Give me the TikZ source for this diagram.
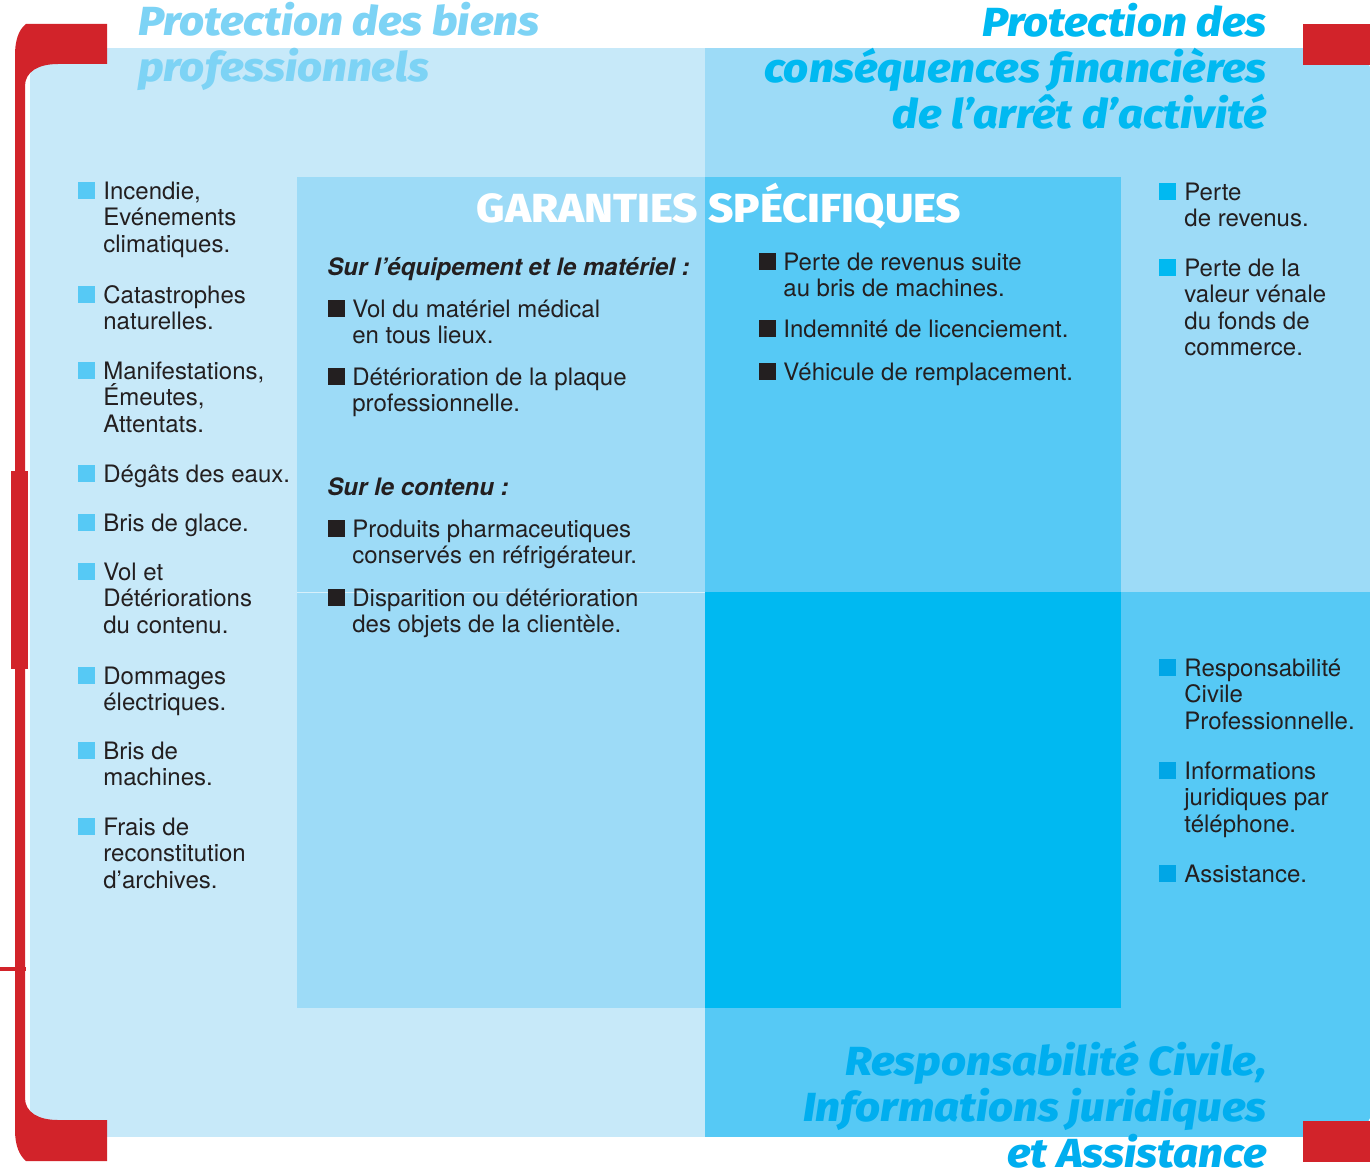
\documentclass[tikz,border=0pt]{standalone}
\usepackage{fontspec}
\setmainfont{TeX Gyre Heros}
\newfontfamily\titlefont{Fira Sans}[FakeStretch=1.08,BoldFont=* ExtraBold,BoldItalicFont=* ExtraBold Italic]
\newcommand{\firstline}{\rule{0pt}{11pt}}
\definecolor{pale}{HTML}{C7E9F9}
\definecolor{light}{HTML}{9DDBF7}
\definecolor{mid}{HTML}{56C9F5}
\definecolor{strong}{HTML}{00B9F1}
\definecolor{redc}{HTML}{D2232A}
\definecolor{titleL}{HTML}{7DD3F5}
\definecolor{titleR}{HTML}{00AEEF}
\definecolor{ink}{HTML}{231F20}
\definecolor{sqR}{HTML}{00A6E6}

\begin{document}
\begin{tikzpicture}[x=0.5pt,y=-0.5pt,
	body/.style={inner sep=0pt,align=left,anchor=north west,text=ink,font=\fontsize{12}{13.25}\selectfont},
	head/.style={body,anchor=base west,font=\fontsize{12}{13.25}\selectfont\bfseries\itshape},
	sqbox/.style={inner sep=0pt,minimum size=8.5pt,anchor=north east},
	title/.style={inner sep=0pt,font=\titlefont\fontsize{20.3}{23}\selectfont\bfseries\itshape}]
	\useasboundingbox (0,0) rectangle (1370,1172);
	\begin{scope}
	\clip[rounded corners=15pt] (30,48) rectangle (1372,1137);
	\fill[pale] (30,48) rectangle (705,1137);
	\fill[light] (705,48) rectangle (1372,592);
	\fill[mid] (705,592) rectangle (1372,1137);
	\end{scope}
	\fill[light] (297,177) rectangle (705,1008);
	\fill[mid] (705,177) rectangle (1121,592);
	\fill[strong] (705,592) rectangle (1121,1008);
	\draw[white,opacity=0.6,line width=0.5pt] (297,592) -- (705,592);
	\fill[redc] (107,24) -- (26,24) .. controls (18,30) and (15,42) .. (15,55) -- (15,1130)
		.. controls (15,1145) and (19,1155) .. (26,1161) -- (107,1161) -- (107,1120) -- (58,1120)
		.. controls (38,1120) and (25,1112) .. (25,1098) -- (25,86)
		.. controls (25,72) and (38,64) .. (58,64) -- (107,64) -- cycle;
	\fill[redc] (11,471) rectangle (28,669);
	\fill[redc] (0,967) rectangle (26,971);
	\fill[redc] (1303,24) rectangle (1370,65);
	\fill[redc] (1303,1121) rectangle (1370,1162);

	\node[title,text=titleL,anchor=base west,align=left] (tBiens) at (138,82) {Protection des biens\\professionnels};
	\node[title,text=strong,anchor=base east,align=right] (tPerte) at (1267,128) {Protection des\\conséquences financières\\de l’arrêt d’activité};
	\node[title,text=titleR,anchor=base east,align=right] (tRC) at (1267,1167) {Responsabilité Civile,\\Informations juridiques\\et Assistance};
	\node[title,text=white,anchor=base,font=\titlefont\fontsize{20.3}{23}\selectfont\bfseries] (tGar) at (719,222) {GARANTIES SPÉCIFIQUES};

	\node[body] (iFeu) at (103,177) {\firstline Incendie,\\Evénements\\climatiques.};
	\node[sqbox,fill=mid] (sFeu) at ([xshift=-4pt,yshift=-2.5pt]iFeu.north west) {};
	\node[body] (iCat) at (103,281) {\firstline Catastrophes\\naturelles.};
	\node[sqbox,fill=mid] (sCat) at ([xshift=-4pt,yshift=-2.5pt]iCat.north west) {};
	\node[body] (iEmeute) at (103,357) {\firstline Manifestations,\\Émeutes,\\Attentats.};
	\node[sqbox,fill=mid] (sEmeute) at ([xshift=-4pt,yshift=-2.5pt]iEmeute.north west) {};
	\node[body] (iEaux) at (103,460) {\firstline Dégâts des eaux.};
	\node[sqbox,fill=mid] (sEaux) at ([xshift=-4pt,yshift=-2.5pt]iEaux.north west) {};
	\node[body] (iGlace) at (103,509) {\firstline Bris de glace.};
	\node[sqbox,fill=mid] (sGlace) at ([xshift=-4pt,yshift=-2.5pt]iGlace.north west) {};
	\node[body] (iVol) at (103,558) {\firstline Vol et\\Détériorations\\du contenu.};
	\node[sqbox,fill=mid] (sVol) at ([xshift=-4pt,yshift=-2.5pt]iVol.north west) {};
	\node[body] (iElec) at (103,662) {\firstline Dommages\\électriques.};
	\node[sqbox,fill=mid] (sElec) at ([xshift=-4pt,yshift=-2.5pt]iElec.north west) {};
	\node[body] (iMach) at (103,737) {\firstline Bris de\\machines.};
	\node[sqbox,fill=mid] (sMach) at ([xshift=-4pt,yshift=-2.5pt]iMach.north west) {};
	\node[body] (iArch) at (103,813) {\firstline Frais de\\reconstitution\\d’archives.};
	\node[sqbox,fill=mid] (sArch) at ([xshift=-4pt,yshift=-2.5pt]iArch.north west) {};

	\node[head] (hEquip) at (327,275) {Sur l’équipement et le matériel :};
	\node[body] (iMed) at (352,295) {\firstline Vol du matériel médical\\en tous lieux.};
	\node[sqbox,fill=ink] (sMed) at ([xshift=-3.5pt,yshift=-2.5pt]iMed.north west) {};
	\node[body] (iPlaque) at (352,363) {\firstline Détérioration de la plaque\\professionnelle.};
	\node[sqbox,fill=ink] (sPlaque) at ([xshift=-3.5pt,yshift=-2.5pt]iPlaque.north west) {};
	\node[head] (hContenu) at (327,495) {Sur le contenu :};
	\node[body] (iPharma) at (352,515) {\firstline Produits pharmaceutiques\\conservés en réfrigérateur.};
	\node[sqbox,fill=ink] (sPharma) at ([xshift=-3.5pt,yshift=-2.5pt]iPharma.north west) {};
	\node[body] (iClient) at (352,584) {\firstline Disparition ou détérioration\\des objets de la clientèle.};
	\node[sqbox,fill=ink] (sClient) at ([xshift=-3.5pt,yshift=-2.5pt]iClient.north west) {};

	\node[body] (iBris) at (783,248) {\firstline Perte de revenus suite\\au bris de machines.};
	\node[sqbox,fill=ink] (sBris) at ([xshift=-3.5pt,yshift=-2.5pt]iBris.north west) {};
	\node[body] (iLicen) at (783,315) {\firstline Indemnité de licenciement.};
	\node[sqbox,fill=ink] (sLicen) at ([xshift=-3.5pt,yshift=-2.5pt]iLicen.north west) {};
	\node[body] (iVehic) at (783,358) {\firstline Véhicule de remplacement.};
	\node[sqbox,fill=ink] (sVehic) at ([xshift=-3.5pt,yshift=-2.5pt]iVehic.north west) {};

	\node[body] (iRev) at (1184,178) {\firstline Perte\\de revenus.};
	\node[sqbox,fill=strong] (sRev) at ([xshift=-4pt,yshift=-2.5pt]iRev.north west) {};
	\node[body] (iFonds) at (1184,254) {\firstline Perte de la\\valeur vénale\\du fonds de\\commerce.};
	\node[sqbox,fill=strong] (sFonds) at ([xshift=-4pt,yshift=-2.5pt]iFonds.north west) {};
	\node[body] (iRCP) at (1184,654) {\firstline Responsabilité\\Civile\\Professionnelle.};
	\node[sqbox,fill=sqR] (sRCP) at ([xshift=-4pt,yshift=-2.5pt]iRCP.north west) {};
	\node[body] (iJur) at (1184,757) {\firstline Informations\\juridiques par\\téléphone.};
	\node[sqbox,fill=sqR] (sJur) at ([xshift=-4pt,yshift=-2.5pt]iJur.north west) {};
	\node[body] (iAss) at (1184,860) {\firstline Assistance.};
	\node[sqbox,fill=sqR] (sAss) at ([xshift=-4pt,yshift=-2.5pt]iAss.north west) {};
\end{tikzpicture}
\end{document}
